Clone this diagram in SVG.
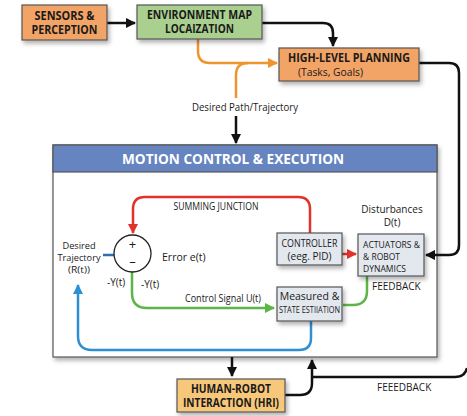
<svg xmlns="http://www.w3.org/2000/svg" width="467" height="416" viewBox="0 0 467 416">
<defs>
<filter id="sh" x="-10%" y="-10%" width="130%" height="140%"><feDropShadow dx="2" dy="3" stdDeviation="2" flood-color="#000" flood-opacity="0.3"/></filter>
<marker id="ak" viewBox="0 0 10 10" refX="9" refY="5" markerWidth="4.2" markerHeight="4.2" orient="auto" markerUnits="strokeWidth"><path d="M0,0 L10,5 L0,10 z" fill="#111"/></marker>
<marker id="ao" viewBox="0 0 10 10" refX="9" refY="5" markerWidth="4.2" markerHeight="4.2" orient="auto" markerUnits="strokeWidth"><path d="M0,0 L10,5 L0,10 z" fill="#F0952E"/></marker>
<marker id="ar" viewBox="0 0 10 10" refX="9" refY="5" markerWidth="4.2" markerHeight="4.2" orient="auto" markerUnits="strokeWidth"><path d="M0,0 L10,5 L0,10 z" fill="#E0332B"/></marker>
<marker id="ag" viewBox="0 0 10 10" refX="9" refY="5" markerWidth="4.2" markerHeight="4.2" orient="auto" markerUnits="strokeWidth"><path d="M0,0 L10,5 L0,10 z" fill="#5DB548"/></marker>
<marker id="ab" viewBox="0 0 10 10" refX="9" refY="5" markerWidth="4.2" markerHeight="4.2" orient="auto" markerUnits="strokeWidth"><path d="M0,0 L10,5 L0,10 z" fill="#2F8FD3"/></marker>
</defs>
<style>
text{font-family:"Open Sans","Liberation Sans",sans-serif;fill:#1a1a1a}
.b{font-weight:bold}
.box{stroke:#555;stroke-width:1.2;filter:url(#sh)}
.or{fill:#F2A466}
.gr{fill:#A9D08E}
.gy{fill:#E3E7EE}
.k{fill:none;stroke:#111;stroke-width:2.5}
.o{fill:none;stroke:#F0952E;stroke-width:2.5}
.r{fill:none;stroke:#E0332B;stroke-width:2.5}
.g{fill:none;stroke:#5DB548;stroke-width:2.5}
.bl{fill:none;stroke:#2F8FD3;stroke-width:2.5}
</style>
<rect width="467" height="416" fill="#fff"/>
<g id="motion-control">
<rect class="box" x="53" y="145" width="384" height="212" fill="#fff"/>
<rect x="53" y="145" width="384" height="27" fill="#6584C0" stroke="#555" stroke-width="1.2"/>
<text x="233" y="164" text-anchor="middle" class="b" font-size="14.5" style="fill:#fff" textLength="222" lengthAdjust="spacingAndGlyphs">MOTION CONTROL &amp; EXECUTION</text>
</g>
<g id="connectors">
<path class="k" d="M107,23 H135" marker-end="url(#ak)"/>
<path class="k" d="M262,23 H323 Q333,23 333,33 V46" marker-end="url(#ak)"/>
<path class="o" d="M198,39 V51 Q198,63 210,63 H277" marker-end="url(#ao)"/>
<path class="o" d="M236,98 V75 Q236,63 248,63"/>
<path class="k" d="M236,116 V143" marker-end="url(#ak)"/>
<path class="k" d="M419,63 H449 Q459,63 459,73 V245 Q459,255 449,255 H426" marker-end="url(#ak)"/>
<path class="r" d="M310,233 V209 Q310,197 298,197 H145 Q133,197 133,209 V233" marker-end="url(#ar)"/>
<path class="r" d="M342,254 H356" marker-end="url(#ar)"/>
<path fill="none" stroke="#2F6FB0" stroke-width="2.5" d="M103,255 H114"/>
<path class="g" d="M132,272 V293 Q132,308 147,308 H274" marker-end="url(#ag)"/>
<path class="g" d="M367,276 V291 Q367,305 353,305 H343"/>
<path class="bl" d="M311,321 V338 Q311,350 299,350 H92 Q78,350 78,336 V285" marker-end="url(#ab)"/>
<path class="k" d="M232,357 V376" marker-end="url(#ak)"/>
<path class="k" d="M285,395 H300 Q312,395 312,383 V360" marker-end="url(#ak)"/>
<path class="k" d="M312,377 H455 Q465,377 467,368"/>
</g>
<g id="sensors">
<rect class="box or" x="22" y="5" width="85" height="35"/>
<text x="64.5" y="19.5" text-anchor="middle" class="b" font-size="11.5" textLength="60" lengthAdjust="spacingAndGlyphs">SENSORS &amp;</text>
<text x="64.5" y="33.5" text-anchor="middle" class="b" font-size="11.5" textLength="66" lengthAdjust="spacingAndGlyphs">PERCEPTION</text>
</g>
<g id="environment-map">
<rect class="box gr" x="137" y="5" width="125" height="34"/>
<text x="199.5" y="19" text-anchor="middle" class="b" font-size="11.5" textLength="105" lengthAdjust="spacingAndGlyphs">ENVIRONMENT MAP</text>
<text x="199.5" y="33" text-anchor="middle" class="b" font-size="11.5" textLength="69" lengthAdjust="spacingAndGlyphs">LOCAIZATION</text>
</g>
<g id="high-level-planning">
<rect class="box or" x="279" y="48" width="140" height="33"/>
<text x="349" y="62" text-anchor="middle" class="b" font-size="11.5" textLength="122" lengthAdjust="spacingAndGlyphs">HIGH-LEVEL PLANNING</text>
<text x="330.5" y="75.5" text-anchor="middle" font-size="11" textLength="65" lengthAdjust="spacingAndGlyphs">(Tasks, Goals)</text>
</g>
<text x="245" y="111" text-anchor="middle" font-size="10.5" textLength="106" lengthAdjust="spacingAndGlyphs">Desired Path/Trajectory</text>
<g id="summing-junction">
<circle cx="132.5" cy="253.5" r="18.5" fill="#fff" stroke="#222" stroke-width="1.3"/>
<text x="132.5" y="249" text-anchor="middle" font-size="13">+</text>
<text x="132.5" y="266" text-anchor="middle" font-size="13">–</text>
</g>
<text x="216" y="210" text-anchor="middle" font-size="10" textLength="85" lengthAdjust="spacingAndGlyphs">SUMMING JUNCTION</text>
<text x="79" y="249" text-anchor="middle" font-size="9.5" textLength="33" lengthAdjust="spacingAndGlyphs">Desired</text>
<text x="79" y="261" text-anchor="middle" font-size="9.5" textLength="43" lengthAdjust="spacingAndGlyphs">Trajectory</text>
<text x="79" y="273" text-anchor="middle" font-size="9.5" textLength="22" lengthAdjust="spacingAndGlyphs">(R(t))</text>
<text x="162" y="261" font-size="10.5">Error e(t)</text>
<text x="107" y="286" font-size="10">-Y(t)</text>
<text x="141" y="288" font-size="10">-Y(t)</text>
<text x="223" y="302" text-anchor="middle" font-size="10.5" textLength="76" lengthAdjust="spacingAndGlyphs">Control Signal U(t)</text>
<text x="392" y="213" text-anchor="middle" font-size="10">Disturbances</text>
<text x="392" y="225.5" text-anchor="middle" font-size="10">D(t)</text>
<text x="372" y="290" font-size="10">FEEDBACK</text>
<text x="377" y="391" font-size="10">FEEEDBACK</text>
<g id="controller">
<rect class="box gy" x="277" y="233" width="65" height="32"/>
<text x="309.5" y="247" text-anchor="middle" font-size="10" textLength="56" lengthAdjust="spacingAndGlyphs">CONTROLLER</text>
<text x="309.5" y="259.5" text-anchor="middle" font-size="10">(eeg. PID)</text>
</g>
<g id="actuators">
<rect class="box gy" x="358" y="234" width="66" height="42"/>
<text x="363" y="247.5" font-size="9.5" textLength="57" lengthAdjust="spacingAndGlyphs">ACTUATORS &amp;</text>
<text x="363" y="259.5" font-size="9.5" textLength="37" lengthAdjust="spacingAndGlyphs">&amp; ROBOT</text>
<text x="363" y="271.5" font-size="9.5" textLength="43" lengthAdjust="spacingAndGlyphs">DYNAMICS</text>
</g>
<g id="state-estimation">
<rect class="box gy" x="277" y="287" width="65" height="34"/>
<text x="309.5" y="300" text-anchor="middle" font-size="10.5">Measured &amp;</text>
<text x="309.5" y="313" text-anchor="middle" font-size="8.5" textLength="61" lengthAdjust="spacingAndGlyphs">STATE ESTIIATION</text>
</g>
<g id="hri">
<rect class="box" x="177" y="379" width="108" height="33" fill="#F8C87A"/>
<text x="231" y="392.5" text-anchor="middle" class="b" font-size="11.5" textLength="80" lengthAdjust="spacingAndGlyphs">HUMAN-ROBOT</text>
<text x="231" y="406.5" text-anchor="middle" class="b" font-size="11.5" textLength="96" lengthAdjust="spacingAndGlyphs">INTERACTION (HRI)</text>
</g>
</svg>
